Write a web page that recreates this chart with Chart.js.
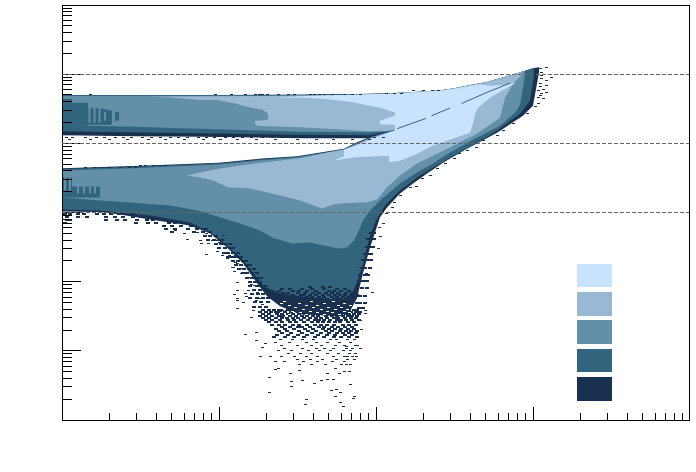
<!DOCTYPE html>
<html>
<head>
<meta charset="utf-8">
<style>
html,body{margin:0;padding:0;background:#fff;}
canvas{display:block;}
</style>
<script src="https://cdn.jsdelivr.net/npm/chart.js@4"></script>
</head>
<body>
<canvas id="chart" width="696" height="472"></canvas>
<script>
// all data below are log10 values (x: -2..2, y: 0..6)

// colours of the five levels, lightest first
const levelColors=["#c9e3ff","#98b8d4","#648fa9","#33647e","#19304e"];

// decades and reference lines
const xDecades=[-2,-1,0,1];
const yDecades=[0,1,2,3,4,5];
const mantissas=[1,2,3,4,5,6,7,8,9];
const guideLines=[5,4,3];

// top edge once both branches have joined
const tuX=[.134,.3,.4,.5,.6,.7,.8,.9,1,1.038];
const tuY=[4.727,4.748,4.763,4.796,4.842,4.883,4.948,5.012,5.085,5.1];

// upper branch
const upTopX=[-2,-1.5,-1,-.5,-.1,.1,.153];
const upTopY=[4.698,4.695,4.699,4.702,4.712,4.724,4.731];
const upMidTopX=[-2,-.5,-.1,.1,.153];
const upMidTopY=[4.685,4.688,4.699,4.709,4.716];
const upDarkLoX=[-2,-1.535,-1.12,-.866,-.484,-.038,.09,.153];
const upDarkLoY=[4.118,4.104,4.096,4.089,4.075,4.075,4.154,4.212];
const upMidDarkLoX=[-2,-1.63,-1.12,-.484,-.038,.09,.153];
const upMidDarkLoY=[4.176,4.161,4.144,4.125,4.118,4.183,4.212];
const upMidLoX=[-2,-1.535,-1.248,-1.12,-.484,-.038,.09,.153];
const upMidLoY=[4.262,4.241,4.219,4.212,4.169,4.161,4.19,4.212];
const upTipTopX=[-1.452,-1.013,-.688];
const upTipTopY=[4.674,4.681,4.684];
const upTipLoX=[-1.452,-1.312,-1.121,-1.013,-.898,-.803,-.72,-.688,-.688];
const upTipLoY=[4.674,4.664,4.626,4.626,4.577,4.519,4.486,4.428,4.337];
const upNotchTopX=[-.771,-.688];
const upNotchTopY=[4.327,4.337];
const upNotchLoX=[-.771,-.758,-.688];
const upNotchLoY=[4.28,4.255,4.248];
const upLightMidTopX=[-.688,-.1,.153];
const upLightMidTopY=[4.684,4.702,4.724];
const upLightMidLoX=[-.688,-.484,-.274,-.057,.07,.153];
const upLightMidLoY=[4.248,4.231,4.208,4.173,4.173,4.207];
const upLightTopX=[-.643,-.484,-.057,.121];
const upLightTopY=[4.659,4.681,4.711,4.72];
const upLightLoX=[-.643,-.439,-.338,-.166,.025,.121];
const upLightLoY=[4.659,4.659,4.644,4.601,4.515,4.447];
const upLightNotchX=[.025,.121];
const upLightNotchTopY=[4.327,4.399];
const upLightNotchLoY=[4.276,4.269];

// lower branch
const lowTopX=[-2,-1.503,-1,-.726,-.503,-.204,-.121,-.019,.134];
const lowDarkTopY=[3.639,3.675,3.721,3.779,3.815,3.923,4.014,4.111,4.212];
const lowMidDarkTopY=[3.63,3.666,3.712,3.77,3.806,3.914,4.005,4.102,4.203];
const lowMidTopY=[3.606,3.642,3.693,3.757,3.794,3.902,3.996,4.096,4.205];
const lowDarkLoX=[-2,-1.758,-1.631,-1.44,-1.185,-1.057,-.949,-.847,-.758,-.694,-.611,-.484,-.229,-.166,-.121,-.083,-.038,-.006,.025,.07,.153,.236,.325,.427,.58,.771,.936,1,1.038];
const lowDarkLoY=[3.015,3.007,2.971,2.899,2.813,2.697,2.495,2.265,1.976,1.789,1.644,1.529,1.5,1.572,1.76,2.12,2.495,2.712,2.928,3.072,3.274,3.419,3.563,3.721,3.923,4.154,4.399,4.543,5.02];
const lowMidDarkLoX=[-2,-1.758,-1.44,-1.185,-1.057,-.949,-.847,-.771,-.707,-.611,-.484,-.357,-.229,-.166,-.115,-.076,-.038,0,.057,.153,.28,.408,.599,.771,.917,.981,1.006];
const lowMidDarkLoY=[3.043,3.029,2.957,2.856,2.712,2.524,2.308,2.091,1.918,1.832,1.789,1.76,1.731,1.774,2.019,2.308,2.668,2.885,3.101,3.318,3.534,3.707,3.952,4.183,4.428,4.616,4.976];
const lowMidLoX=[-2,-1.758,-1.567,-1.312,-1.121,-.994,-.866,-.739,-.662,-.535,-.42,-.242,-.185,-.14,-.115,-.083,-.038,.025,.153,.261,.363,.471,.643,.79,.885,.917,.93,.949];
const lowMidLoY=[3.217,3.173,3.144,3.101,3.022,2.932,2.842,2.741,2.64,2.553,2.568,2.481,2.495,2.596,2.712,2.885,3.029,3.173,3.419,3.577,3.707,3.866,4.082,4.255,4.443,4.558,4.717,4.991];
const lowLightMidTopX=[-1.204,-1.121,-.994,-.866,-.739,-.484,-.293,-.197,-.121,-.019,.134];
const lowLightMidTopY=[3.534,3.577,3.635,3.678,3.714,3.786,3.873,3.916,3.988,4.089,4.197];
const lowLightMidLoX=[-1.204,-1.121,-1.038,-.943,-.803,-.611,-.484,-.344,-.274,-.21,-.057,.006,.07,.153,.261,.471,.643,.79,.822,.873,.93];
const lowLightMidLoY=[3.534,3.505,3.462,3.365,3.346,3.245,3.173,3.058,3.116,3.134,3.149,3.188,3.361,3.534,3.707,3.938,4.14,4.37,4.659,4.861,4.991];
const lightTopX=[-.268,-.204,-.204,-.121,-.019,.121,.121,.299,.401,.5,.599,.662,.726,.822,.885];
const lightTopY=[3.75,3.815,3.912,3.974,4.075,4.183,4.72,4.745,4.76,4.789,4.832,4.854,4.832,4.846,4.875];
const lightLoX=[-.268,-.134,.083,.089,.153,.261,.363,.49,.599,.618,.631,.65,.726,.885];
const lightLoY=[3.75,3.798,3.822,3.726,3.75,3.851,3.967,4.068,4.158,4.284,4.428,4.515,4.659,4.868];

// blocky patches at the left edge: [xs, top, bottom]
const patchesX=[[-2,-1.936,-1.936,-1.834],[-1.834,-1.758,-1.682],[-1.662,-1.637],[-2,-1.936],[-1.936,-1.758]];
const patchesTop=[[4.64,4.64,4.587,4.587],[4.508,4.508,4.471],[4.457,4.457],[3.505,3.505],[3.375,3.375]];
const patchesLo=[[4.255,4.255,4.255,4.255],[4.269,4.269,4.269],[4.327,4.327],[3.217,3.217],[3.217,3.217]];
const stripesX=[-1.825,-1.793,-1.761,-1.726,-1.981,-1.949,-1.898,-1.86,-1.822,-1.79];
const stripesTop=[4.572,4.572,4.572,4.457,3.505,3.505,3.375,3.375,3.375,3.375];
const stripesLo=[4.298,4.298,4.298,4.327,3.318,3.318,3.274,3.274,3.274,3.274];

// thin line left inside the lightest area
const thinLinesX=[[.134,.318],[.354,.471],[.546,.705],[.705,.854]];
const thinLinesY=[[4.212,4.36],[4.399,4.509],[4.577,4.735],[4.735,4.871]];

// single dark bins, row by row
const rowY=[4.71,4.725,4.76,3.65,3.675,4.08,4.055,2.98,2.94,2.89,2.85,2.8,2.76,2.72,
1.93,1.9,1.87,1.84,1.81,1.78,1.75,1.72,
1.59,1.56,1.53,1.5,1.47,1.44,1.41,1.38,1.35,1.32,1.29,1.26,1.23,1.2,1.16,1.12,1.08,1.04,1,.96,.92,.88,.84,.8,
2.66,2.6,2.54,2.48,2.42,2.36,2.3,2.24,2.18,2.12,2.06,2,1.94,1.88,1.82,1.76,1.7,1.64,
2.7,2.61,2.5,2.4,2.31,2.2,2.1,2.01,1.91,1.8,1.69,1.62];
const rowX=[
[-1.82,-1.02,-.92,-.83,-.77,-.74,-.72,-.69,-.62,-.56,-.52,-.42,-.39,-.36,-.33,-.28,-.2,-.15,-.1],
[.07,.12,.16],
[.24,.3,.36,.4],
[-1.85,-1.79,-1.74,-1.7,-1.63,-1.57,-1.53],
[-1.5,-1.47,-1.42,-1.37,-1.34],
[-1.97,-1.93,-1.85,-1.78,-1.73,-1.66,-1.61,-1.56,-1.49,-1.43,-1.37,-1.31,-1.26,-1.2,-1.13,-1.08,-1.03,-.96,-.91,-.85,-.79,-.72,-.66,-.6,-.53,-.47,-.41,-.35,-.3,-.24,-.18,-.12,-.07,-.01,.05],
[-1.95,-1.82,-1.7,-1.58,-1.45,-1.34,-1.22,-1.1,-.99,-.88,-.76,-.64,-.5,-.38,-.27,-.15,-.04],
[-1.98,-1.95,-1.9,-1.86,-1.78,-1.73,-1.69,-1.64,-1.6,-1.55],
[-1.97,-1.9,-1.84,-1.72,-1.66,-1.61,-1.55,-1.5,-1.45],
[-1.97,-1.95,-1.72,-1.65,-1.6,-1.52,-1.46,-1.42,-1.37],
[-1.98,-1.53,-1.45,-1.4,-1.32,-1.28,-1.22],
[-1.35,-1.3,-1.24,-1.18,-1.15],
[-1.34,-1.28,-1.2,-1.14,-1.1,-1.08],
[-1.3,-1.16,-1.1,-1.06],
[-.42,-.34,-.29],
[-.6,-.55,-.47,-.41,-.33,-.25,-.2],
[-.66,-.62,-.53,-.49,-.44,-.38,-.3,-.27,-.22,-.17],
[-.69,-.64,-.59,-.56,-.5,-.45,-.4,-.36,-.32,-.28,-.24,-.19,-.15,-.13],
[-.67,-.63,-.58,-.53,-.48,-.46,-.42,-.38,-.34,-.3,-.26,-.23,-.2,-.16,-.12],
[-.65,-.6,-.57,-.52,-.49,-.44,-.41,-.36,-.33,-.28,-.25,-.21,-.18,-.14],
[-.62,-.55,-.5,-.47,-.43,-.39,-.35,-.31,-.27,-.24,-.22,-.19,-.15],
[-.58,-.53,-.46,-.41,-.37,-.32,-.29,-.26,-.2,-.17],
[-.72,-.68,-.65,-.62,-.6,-.57,-.54,-.52,-.49,-.46,-.43,-.4,-.37,-.35,-.32,-.29,-.26,-.23,-.21,-.19,-.17,-.14,-.12],
[-.74,-.7,-.67,-.64,-.61,-.58,-.54,-.5,-.48,-.44,-.41,-.38,-.34,-.31,-.27,-.25,-.22,-.18,-.16,-.13,-.1],
[-.72,-.68,-.63,-.6,-.56,-.53,-.49,-.45,-.43,-.39,-.36,-.33,-.3,-.26,-.23,-.19,-.17,-.14,-.11],
[-.74,-.7,-.66,-.62,-.59,-.55,-.51,-.47,-.44,-.4,-.37,-.32,-.28,-.25,-.21,-.18,-.15,-.12],
[-.72,-.68,-.64,-.6,-.57,-.53,-.5,-.46,-.42,-.38,-.35,-.31,-.27,-.24,-.2,-.16,-.13],
[-.7,-.66,-.61,-.56,-.52,-.48,-.43,-.39,-.36,-.33,-.29,-.25,-.22,-.19,-.15,-.11],
[-.68,-.64,-.6,-.55,-.51,-.46,-.41,-.37,-.34,-.3,-.26,-.23,-.18,-.14],
[-.66,-.62,-.58,-.53,-.49,-.44,-.39,-.35,-.31,-.27,-.21,-.17,-.13],
[-.6,-.55,-.5,-.47,-.42,-.36,-.33,-.28,-.24,-.2,-.15],
[-.64,-.58,-.52,-.45,-.4,-.34,-.3,-.26,-.22,-.18,-.14],
[-.62,-.57,-.49,-.43,-.38,-.32,-.28,-.23,-.19,-.16,-.12],
[-.6,-.54,-.47,-.41,-.35,-.3,-.25,-.21,-.17,-.13],
[-.63,-.56,-.5,-.44,-.37,-.31,-.26,-.2,-.15],
[-.65,-.58,-.52,-.46,-.39,-.33,-.27,-.22,-.17,-.12],
[-.61,-.53,-.47,-.4,-.29,-.25,-.18,-.14],
[-.64,-.55,-.44,-.38,-.31,-.23,-.16],
[-.6,-.5,-.41,-.35,-.26,-.2,-.13],
[-.58,-.47,-.38,-.33,-.27,-.19,-.15,-.1],
[-.62,-.54,-.43,-.36,-.29,-.21,-.16],
[-.56,-.48,-.41,-.31,-.24,-.17,-.13],
[-.6,-.52,-.44,-.37,-.27,-.2,-.15],
[-.5,-.42,-.34,-.25,-.18,-.14],
[-.64,-.58,-.46,-.37,-.28,-.2],
[-.49,-.41,-.32,-.22,-.16],
[-1.09,-1.06,-1.02],
[-1.07,-1.03,-1,-.98],
[-1.02,-.99,-.96,-.93],
[-1,-.96,-.93,-.91],
[-.97,-.94,-.91,-.88],
[-.94,-.92,-.89,-.86],
[-.91,-.88,-.85,-.83],
[-.89,-.86,-.83,-.8],
[-.87,-.84,-.81,-.78],
[-.85,-.82,-.79,-.76],
[-.82,-.79,-.76,-.73],
[-.8,-.77,-.74],
[-.8,-.76,-.73,-.7],
[-.78,-.74,-.71,-.68],
[-.79,-.75,-.72],
[-.8,-.76,-.72,-.69,-.66],
[-.77,-.73,-.69],
[-.78,-.74,-.7],
[-.03,-.01],
[-.05,-.03,-.01],
[-.06,-.04,-.02],
[-.07,-.05,-.03],
[-.08,-.05,-.03],
[-.09,-.07,-.04],
[-.1,-.07,-.05],
[-.11,-.08,-.06],
[-.12,-.09,-.06],
[-.13,-.1,-.07],
[-.12,-.1,-.07],
[-.11,-.08]
];

// empty bins inside the solid dark part
const holeRowY=[1.72,1.69,1.66,1.63,1.6,1.575,1.55,1.525];
const holeRowX=[
[-.58,-.41,-.27],
[-.6,-.49,-.33,-.2],
[-.55,-.44,-.37,-.24,-.16],
[-.63,-.51,-.4,-.3,-.22],
[-.58,-.46,-.35,-.26,-.18],
[-.53,-.42,-.31,-.2],
[-.6,-.48,-.37,-.28,-.17],
[-.55,-.44,-.33,-.23]
];

// loose bins: tail, sides of the dip, right edge and tip
const looseX=[-.637,-.62,-.544,-.49,-.68,-.54,-.54,-.465,-.39,-.35,-.31,-.27,-.31,-.235,-.2,-.17,-.26,-.68,-.44,-.45,-.285,-.25,-.225,-.26,-.145,-.135,-.225,-.21,-.16,
-.733,-.675,-.72,-.707,-.76,-.76,-.83,-.18,-.127,-.185,-.185,-.12,-.07,-.07,-.1,-.095,-.02,-.06,-.1,-.055,-.04,.013,.03,
-1.28,-1.22,-1.14,-1.08,-1.12,-1.04,-1.2,-1.07,-1.11,-1,-.97,-1.08,-1.01,-.93,-.885,-.866,-.91,-.9,-.88,-.88,-.9,-.88,-.88,
-1.013,-.962,-.975,-.943,-.898,-.911,-.866,-.803,-.879,-.815,-.803,-.771,-.834,-.879,-.847,-.783,-.79,-.898,-.854,-.822,-.79,-.752,-.733,-.72,-.758,-.79,-.822,
.025,.045,.07,.102,.121,.153,.217,.255,.299,.344,.389,.44,.503,.535,.58,.643,.682,.771,.809,.873,.968,
1.089,1.057,1.115,1.089,1.089,1.064,1.089,1.057,1.064,1.032,1.013,1.045,1.057,1.025,1.045,1.032,1.032,1.051,1.045,1.045];
const looseY=[.731,.75,.666,.721,.62,.552,.49,.577,.533,.577,.591,.591,.678,.678,.707,.707,.75,.404,.303,.231,.433,.447,.404,.346,.317,.346,.26,.188,.519,
.923,.923,1.05,1.11,1.27,1.154,1.24,.923,.923,.808,1.067,1.08,1.587,1.54,1.44,1.31,1.846,2.12,2.207,2.452,2.308,2.48,2.654,
2.741,2.697,2.712,2.697,2.596,2.596,2.61,2.553,2.553,2.568,2.668,2.394,2.438,2.38,2.265,2.337,2.207,2.149,1.99,1.875,1.817,1.731,1.615,
2.596,2.495,2.38,2.337,2.38,2.207,2.192,2.192,1.99,1.875,2.062,1.947,1.832,1.76,1.702,1.587,1.486,2.279,2.12,2.048,1.96,1.846,1.76,1.673,1.731,1.817,1.789,
2.784,2.841,2.986,3.072,3.144,3.245,3.361,3.375,3.491,3.534,3.635,3.707,3.779,3.851,3.894,3.938,4.039,4.111,4.183,4.284,4.428,
5.092,5.02,4.947,4.904,4.832,4.774,4.731,4.717,4.645,4.572,4.529,4.861,4.933,5.048,5.077,4.76,4.659,4.976,4.818,4.688];

const [LIGHT,LIGHTMID,MID,MIDDARK,DARK]=levelColors;
const pts=(xs,ys)=>xs.map((v,i)=>({x:10**v,y:10**ys[i]}));
const rowPts=(ys,xs)=>ys.flatMap((y,i)=>xs[i].map(v=>({x:10**v,y:10**y})));

function binImage(color,w,h){
  const c=document.createElement("canvas");
  c.width=w; c.height=h;
  const g=c.getContext("2d");
  g.fillStyle=color; g.fillRect(0,0,w,h);
  return c;
}

// two lines, the first one filled down to the second one
const datasets=[];
function band(color,ux,uy,lx,ly){
  datasets.push({data:pts(ux,uy),fill:"+1",backgroundColor:color,borderWidth:0,pointRadius:0});
  datasets.push({data:pts(lx,ly),fill:false,borderWidth:0,pointRadius:0});
}
function segment(color,width,xs,ys){
  datasets.push({data:pts(xs,ys),fill:false,borderColor:color,borderWidth:width,pointRadius:0});
}
function bins(color,w,h,data){
  datasets.push({data,showLine:false,fill:false,pointStyle:binImage(color,w,h),pointRadius:1});
}

band(DARK,upTopX,upTopY,upDarkLoX,upDarkLoY);
band(DARK,[...lowTopX,...tuX],[...lowDarkTopY,...tuY],lowDarkLoX,lowDarkLoY);
band(MIDDARK,upTopX,upTopY,upMidDarkLoX,upMidDarkLoY);
band(MIDDARK,[...lowTopX,...tuX.slice(0,9),1.006],[...lowMidDarkTopY,...tuY.slice(0,9),5.092],lowMidDarkLoX,lowMidDarkLoY);
band(MID,upMidTopX,upMidTopY,upMidLoX,upMidLoY);
band(MID,[...lowTopX,...tuX.slice(0,8),.949],[...lowMidTopY,...tuY.slice(0,8),5.048],lowMidLoX,lowMidLoY);
patchesX.forEach((xs,i)=>band(MIDDARK,xs,patchesTop[i],xs,patchesLo[i]));
stripesX.forEach((v,i)=>segment(MID,2,[v,v],[stripesTop[i],stripesLo[i]]));
band(LIGHTMID,upTipTopX,upTipTopY,upTipLoX,upTipLoY);
band(LIGHTMID,upNotchTopX,upNotchTopY,upNotchLoX,upNotchLoY);
band(LIGHTMID,upLightMidTopX,upLightMidTopY,upLightMidLoX,upLightMidLoY);
band(LIGHTMID,[...lowLightMidTopX,...tuX.slice(0,8),.93],[...lowLightMidTopY,...tuY.slice(0,8),5.03],lowLightMidLoX,lowLightMidLoY);
band(LIGHT,upLightTopX,upLightTopY,upLightLoX,upLightLoY);
band(LIGHT,upLightNotchX,upLightNotchTopY,upLightNotchX,upLightNotchLoY);
band(LIGHT,lightTopX,lightTopY,lightLoX,lightLoY);
thinLinesX.forEach((xs,i)=>segment(MIDDARK,1,xs,thinLinesY[i]));
// wide bins in the busy rows, narrow ones at the tail and on the top edges
const allRows=rowPts(rowY,rowX);
const isBusy=p=>p.y>=10**1.2&&p.y<10**3.1;
bins(DARK,4,2,allRows.filter(isBusy));
bins(DARK,3,1,allRows.filter(p=>!isBusy(p)));
bins("#ffffff",3,1,rowPts(holeRowY,holeRowX));
bins(DARK,3,1,pts(looseX,looseY));

// later datasets go on top
datasets.forEach((d,i)=>{d.order=-i;});

// inward ticks, frame, dashed guide lines and the colour boxes
const frame={
  id:"frame",
  beforeDatasetsDraw(chart){chart.ctx.imageSmoothingEnabled=false;},
  afterDraw(chart){
    const ctx=chart.ctx,a=chart.chartArea,sx=chart.scales.x,sy=chart.scales.y;
    const boxes=[[264,23],[292,24],[320,24],[349,23],[377,24]];
    ctx.save();
    boxes.forEach((b,i)=>{
      ctx.fillStyle=levelColors[i];
      ctx.fillRect(577,b[0],35,b[1]);
    });
    ctx.strokeStyle="#000";
    ctx.lineWidth=1;
    ctx.beginPath();
    xDecades.forEach(d=>mantissas.forEach(m=>{
      const x=Math.floor(sx.getPixelForValue(m*10**d))+.5;
      ctx.moveTo(x,a.bottom);
      ctx.lineTo(x,a.bottom-(m===1?13:7));
    }));
    yDecades.forEach(d=>mantissas.forEach(m=>{
      const y=Math.floor(sy.getPixelForValue(m*10**d))+.5;
      ctx.moveTo(a.left,y);
      ctx.lineTo(a.left+(m===1?19:10),y);
    }));
    ctx.stroke();
    ctx.strokeRect(a.left+.5,a.top+.5,a.right-a.left-1,a.bottom-a.top);
    ctx.strokeStyle="#666";
    ctx.setLineDash([4,2]);
    ctx.beginPath();
    guideLines.forEach(v=>{
      const y=Math.floor(sy.getPixelForValue(10**v))+.5;
      ctx.moveTo(a.left,y);
      ctx.lineTo(a.right-1,y);
    });
    ctx.stroke();
    ctx.restore();
  }
};

new Chart(document.getElementById("chart"),{
  type:"line",
  data:{datasets},
  options:{
    responsive:false,
    animation:false,
    events:[],
    layout:{padding:{left:62,top:3,right:6,bottom:52}},
    scales:{
      x:{type:"logarithmic",min:.01,max:100,grid:{display:false,drawTicks:false},border:{display:false},ticks:{display:false}},
      y:{type:"logarithmic",min:1,max:1e6,grid:{display:false,drawTicks:false},border:{display:false},ticks:{display:false}}
    },
    plugins:{legend:{display:false},tooltip:{enabled:false}}
  },
  plugins:[frame]
});
</script>
</body>
</html>
